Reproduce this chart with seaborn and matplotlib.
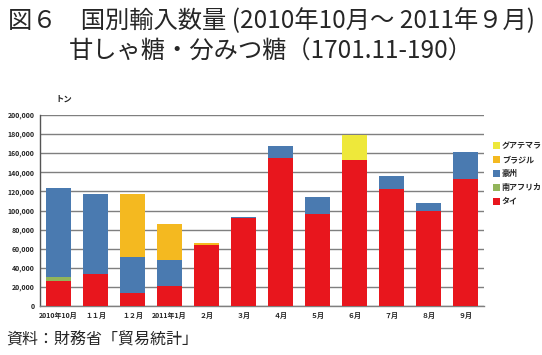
import numpy as np
import pandas as pd
import matplotlib
matplotlib.use('Agg')
import matplotlib.pyplot as plt
import seaborn as sns

# données (tonnes)
months = ['2010年10月', '１１月', '１２月', '2011年1月', '２月', '３月', '４月',
          '５月', '６月', '７月', '８月', '９月']
thai = [26200, 33800, 13600, 21000, 63900, 92100, 155000, 96300, 152900, 122500, 99500, 133000]
south_africa = [4200, 0, 0, 0, 0, 0, 0, 0, 0, 0, 0, 0]
australia = [93200, 83500, 37700, 27200, 0, 1100, 12500, 17800, 0, 13600, 8400, 28300]
brazil = [0, 0, 66000, 37700, 2100, 0, 0, 0, 0, 0, 0, 0]
guatemala = [0, 0, 0, 0, 0, 0, 0, 0, 26100, 0, 0, 0]

series = [('タイ', thai, '#E8161D'),
          ('南アフリカ', south_africa, '#92B55A'),
          ('豪州', australia, '#4A7AB0'),
          ('ブラジル', brazil, '#F4B920'),
          ('グアテマラ', guatemala, '#EEE83A')]

sns.set_style('white')
plt.rcParams['font.family'] = ['Noto Sans CJK JP', 'DejaVu Sans']

fig = plt.figure(figsize=(5.42, 3.55), dpi=100)
ax = fig.add_axes([40 / 542, 1 - 306 / 355, 444 / 542, 191 / 355])
ax.set_axisbelow(True)

bottom = np.zeros(len(months))
for name, vals, col in series:
    df = pd.DataFrame({'mois': months, 'val': vals})
    sns.barplot(data=df, x='mois', y='val', color=col, bottom=bottom, width=0.66,
                saturation=1, ax=ax, label=name, zorder=3, linewidth=0, edgecolor='none')
    bottom += np.array(vals)

ax.set_ylim(0, 200000)
ax.set_xlim(-0.5, len(months) - 0.5)
ax.set_yticks(range(0, 200001, 20000))
ax.set_yticklabels([f'{v:,}' for v in range(0, 200001, 20000)], fontsize=5, fontweight='bold')
ax.set_xticklabels(months, fontsize=5, fontweight='bold')
ax.tick_params(length=0, pad=4)
ax.set_xlabel('')
ax.set_ylabel('')
ax.grid(axis='y', color='#7f7f7f', lw=1, zorder=0)
for s in ['top', 'right']:
    ax.spines[s].set_visible(False)
ax.spines['left'].set_color('#555555')
ax.spines['bottom'].set_color('#7f7f7f')
ax.spines['left'].set_linewidth(1)
ax.spines['bottom'].set_linewidth(1)

# légende dans l'ordre inverse
h, l = ax.get_legend_handles_labels()
leg = ax.legend(h[::-1], l[::-1], loc='upper left', bbox_to_anchor=(1.012, 0.88),
                frameon=False, fontsize=5.8, handlelength=0.9, handleheight=0.9,
                handletextpad=0.25, labelspacing=0.62, borderaxespad=0)
for t in leg.get_texts():
    t.set_fontweight('bold')

fig.text(0.5, 1 - 21 / 355, '図６　国別輸入数量 (2010年10月～ 2011年９月)',
         ha='center', va='center', fontsize=17.5)
fig.text(0.5, 1 - 52 / 355, '甘しゃ糖・分みつ糖（1701.11-190）',
         ha='center', va='center', fontsize=17.5)
fig.text(55 / 542, 1 - 99 / 355, 'トン', ha='left', va='center', fontsize=6, fontweight='bold')
fig.text(6 / 542, 1 - 340 / 355, '資料：財務省「貿易統計」', ha='left', va='center', fontsize=11.5)

fig.savefig('out.png', dpi=100)
